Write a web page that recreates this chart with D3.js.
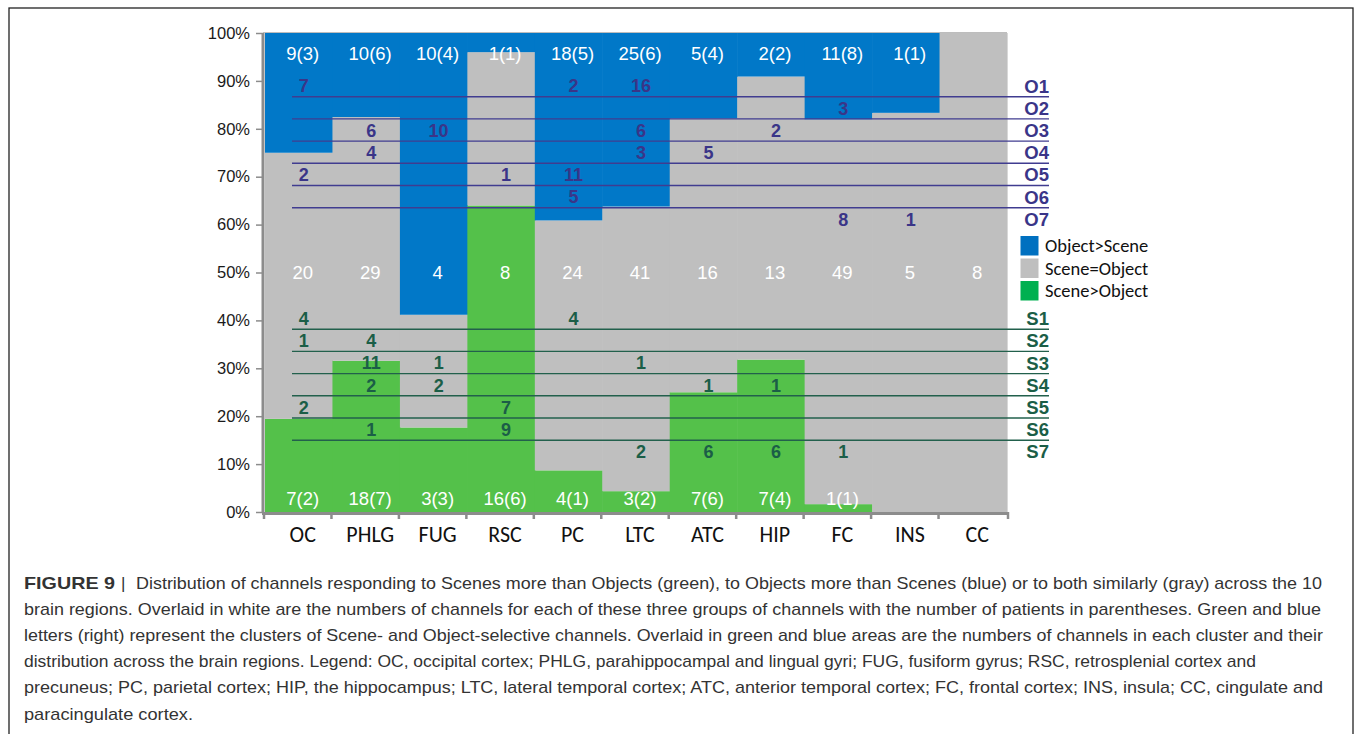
<!DOCTYPE html>
<html><head><meta charset="utf-8">
<script src="https://cdn.jsdelivr.net/npm/d3@7"></script>
<style>
html,body{margin:0;padding:0;background:#fff;}
svg{display:block;}
</style></head>
<body>
<svg id="chart" width="1357" height="734"></svg>
<script>
// ---- data ----
const regions = ["OC","PHLG","FUG","RSC","PC","LTC","ATC","HIP","FC","INS","CC"];
const sceneCount     = [7,18,3,16,4,3,7,7,1,0,0];
const scenePatients  = [2,7,3,6,1,2,6,4,1,null,null];
const equalCount     = [20,29,4,8,24,41,16,13,49,5,8];
const objectCount    = [9,10,10,1,18,25,5,2,11,1,0];
const objectPatients = [3,6,4,1,5,6,4,2,8,1,null];
const yTicks = [0,0.1,0.2,0.3,0.4,0.5,0.6,0.7,0.8,0.9,1.0];

const objectClusterNames = ["O1","O2","O3","O4","O5","O6","O7"];
const objectClusterCounts = [
  [7,0,0,0,2,16,0,0,0,0,0],
  [0,0,0,0,0,0,0,0,3,0,0],
  [0,6,10,0,0,6,0,2,0,0,0],
  [0,4,0,0,0,3,5,0,0,0,0],
  [2,0,0,1,11,0,0,0,0,0,0],
  [0,0,0,0,5,0,0,0,0,0,0],
  [0,0,0,0,0,0,0,0,8,1,0]
];
const sceneClusterNames = ["S1","S2","S3","S4","S5","S6","S7"];
const sceneClusterCounts = [
  [4,0,0,0,4,0,0,0,0,0,0],
  [1,4,0,0,0,0,0,0,0,0,0],
  [0,11,1,0,0,1,0,0,0,0,0],
  [0,2,2,0,0,0,1,1,0,0,0],
  [2,0,0,7,0,0,0,0,0,0,0],
  [0,1,0,9,0,0,0,0,0,0,0],
  [0,0,0,0,0,2,6,6,1,0,0]
];
const legendLabels = ["Object>Scene","Scene=Object","Scene>Object"];
const captionBold = "FIGURE 9";
const captionLines = [
 "Distribution of channels responding to Scenes more than Objects (green), to Objects more than Scenes (blue) or to both similarly (gray) across the 10",
 "brain regions. Overlaid in white are the numbers of channels for each of these three groups of channels with the number of patients in parentheses. Green and blue",
 "letters (right) represent the clusters of Scene- and Object-selective channels. Overlaid in green and blue areas are the numbers of channels in each cluster and their",
 "distribution across the brain regions. Legend: OC, occipital cortex; PHLG, parahippocampal and lingual gyri; FUG, fusiform gyrus; RSC, retrosplenial cortex and",
 "precuneus; PC, parietal cortex; HIP, the hippocampus; LTC, lateral temporal cortex; ATC, anterior temporal cortex; FC, frontal cortex; INS, insula; CC, cingulate and",
 "paracingulate cortex."
];

// ---- styles ----
const C_BLUE="#0178C8", C_GRAY="#BFBFBF", C_GREEN="#54C14A";
const L_BLUE="#0070C0", L_GREEN="#00B050";
const O_TEXT="#3A3588", O_LINE="#403C90";
const S_TEXT="#1B5E47", S_LINE="#22604C";
const AX="#8C8C8C";

const svg = d3.select("#chart");

// frame
svg.append("rect").attr("x",9).attr("y",8).attr("width",1344).attr("height",740)
  .attr("fill","none").attr("stroke","#222").attr("stroke-width",1.3);

const x = d3.scaleBand().domain(regions).range([265,1007]).padding(0);
const y = d3.scaleLinear().domain([0,1]).range([512,33]);

const data = regions.map((r,i)=>{
  const t = sceneCount[i]+equalCount[i]+objectCount[i];
  return {r, i, g:sceneCount[i]/t, m:equalCount[i]/t, b:objectCount[i]/t};
});

// bars
const bars = svg.append("g");
data.forEach(d=>{
  const segs = [
    {y0:0, y1:d.g, c:C_GREEN},
    {y0:d.g, y1:d.g+d.m, c:C_GRAY},
    {y0:d.g+d.m, y1:1, c:C_BLUE}
  ];
  bars.selectAll(null).data(segs.filter(s=>s.y1-s.y0>0)).enter().append("rect")
    .attr("x",x(d.r)).attr("width",x.bandwidth()+0.6)
    .attr("y",s=>y(s.y1)).attr("height",s=>y(s.y0)-y(s.y1))
    .attr("fill",s=>s.c);
});

// top border
svg.append("line").attr("x1",263).attr("x2",1007).attr("y1",y(1)-0.5).attr("y2",y(1)-0.5)
  .attr("stroke","#BDBDBD").attr("stroke-width",1.2);

// Y axis
const yAxis = svg.append("g").attr("transform","translate(263,0)")
  .call(d3.axisLeft(y).tickValues(yTicks).tickFormat(d3.format(".0%")).tickSize(7).tickPadding(6));
yAxis.select(".domain").attr("stroke",AX).attr("stroke-width",3).attr("d",`M0,${y(1)}V${y(0)+1}`);
yAxis.selectAll(".tick line").attr("stroke",AX).attr("stroke-width",1.5);
yAxis.selectAll(".tick text").attr("fill","#1a1a1a").style("font-family","'Liberation Sans',Arial,sans-serif").style("font-size","16.5px");

// X axis
const xAxis = svg.append("g").attr("transform",`translate(0,${y(0)+1.5})`)
  .call(d3.axisBottom(x).tickSize(0).tickPadding(13));
xAxis.select(".domain").attr("stroke",AX).attr("stroke-width",3).attr("d",`M262,0H1009`);
xAxis.selectAll(".tick text").attr("fill","#111").attr("dx",4)
  .style("font-family","Carlito,Lato,'Noto Sans',sans-serif").style("font-size","22px");
svg.append("g").selectAll("line").data(regions.concat(["_end"])).enter().append("line")
  .attr("x1",d=>d==="_end"?x.range()[1]+1:x(d)-1).attr("x2",d=>d==="_end"?x.range()[1]+1:x(d)-1)
  .attr("y1",y(0)).attr("y2",y(0)+7).attr("stroke",AX).attr("stroke-width",2.5);

// white labels
const wl = svg.append("g").style("font-family","'Liberation Sans',Arial,sans-serif")
  .style("font-size","18.5px").attr("fill","#fff").attr("text-anchor","middle");
const cx = r => x(r)+x.bandwidth()/2+4;
wl.selectAll(".top").data(data.filter(d=>objectCount[d.i]>0)).enter().append("text")
  .attr("x",d=>cx(d.r)).attr("y",y(0.957)).attr("dy","0.35em")
  .text(d=>`${objectCount[d.i]}(${objectPatients[d.i]})`);
wl.selectAll(".mid").data(data).enter().append("text")
  .attr("x",d=>cx(d.r)).attr("y",y(0.5)).attr("dy","0.35em")
  .text(d=>equalCount[d.i]);
wl.selectAll(".bot").data(data.filter(d=>sceneCount[d.i]>0)).enter().append("text")
  .attr("x",d=>cx(d.r)).attr("y",y(0.029)).attr("dy","0.35em")
  .text(d=>`${sceneCount[d.i]}(${scenePatients[d.i]})`);

// cluster rows
function clusterBlock(names, counts, yFirst, textColor, lineColor){
  const yr = d3.scalePoint().domain(names).range([yFirst, yFirst+22.2*(names.length-1)]);
  const g = svg.append("g");
  g.selectAll("line").data(names.slice(0,-1)).enter().append("line")
    .attr("x1",292).attr("x2",1049).attr("y1",n=>yr(n)+10.7).attr("y2",n=>yr(n)+10.7)
    .attr("stroke",lineColor).attr("stroke-width",1.4);
  g.selectAll(".lab").data(names).enter().append("text")
    .attr("x",1049).attr("y",n=>yr(n)).attr("dy","0.36em").attr("text-anchor","end")
    .attr("fill",textColor).style("font-family","'Liberation Sans',Arial,sans-serif")
    .style("font-weight","bold").style("font-size","18.5px").text(n=>n);
  const cells=[];
  counts.forEach((row,ri)=>row.forEach((v,ci)=>{ if(v>0) cells.push({n:names[ri], r:regions[ci], v}); }));
  g.selectAll(".num").data(cells).enter().append("text")
    .attr("x",d=>cx(d.r)+1).attr("y",d=>yr(d.n)).attr("dy","0.36em").attr("text-anchor","middle")
    .attr("fill",textColor).style("font-family","'Liberation Sans',Arial,sans-serif")
    .style("font-weight","bold").style("font-size","18px").text(d=>d.v);
}
clusterBlock(objectClusterNames, objectClusterCounts, 86, O_TEXT, O_LINE);
clusterBlock(sceneClusterNames, sceneClusterCounts, 318.5, S_TEXT, S_LINE);

// legend
const leg = svg.append("g");
const legColors=[L_BLUE,C_GRAY,L_GREEN];
leg.selectAll("rect").data(legendLabels).enter().append("rect")
  .attr("x",1020.5).attr("y",(d,i)=>236+i*22.5).attr("width",18).attr("height",19.5)
  .attr("fill",(d,i)=>legColors[i]);
leg.selectAll("text").data(legendLabels).enter().append("text")
  .attr("x",1045).attr("y",(d,i)=>246+i*22.5).attr("dy","0.35em")
  .attr("fill","#111").style("font-family","Carlito,Lato,'Noto Sans',sans-serif").style("font-size","18.5px")
  .text(d=>d);

// caption
const cap = svg.append("g").attr("fill","#333").style("font-family","'Liberation Sans',Arial,sans-serif").style("font-size","17px");
const capWidths=[1186,1297,1299,1232,1299,169];
cap.append("text").attr("x",24).attr("y",589).style("font-weight","bold").text(captionBold)
  .attr("textLength",91).attr("lengthAdjust","spacingAndGlyphs");
cap.append("text").attr("x",121).attr("y",589).text("|");
cap.selectAll(".cl").data(captionLines).enter().append("text")
  .attr("x",(d,i)=>i===0?136:24).attr("y",(d,i)=>589+i*26.1)
  .each(function(d,i){ if(capWidths[i]) d3.select(this).attr("textLength",capWidths[i]).attr("lengthAdjust","spacingAndGlyphs"); })
  .text(d=>d);
</script>
</body></html>
